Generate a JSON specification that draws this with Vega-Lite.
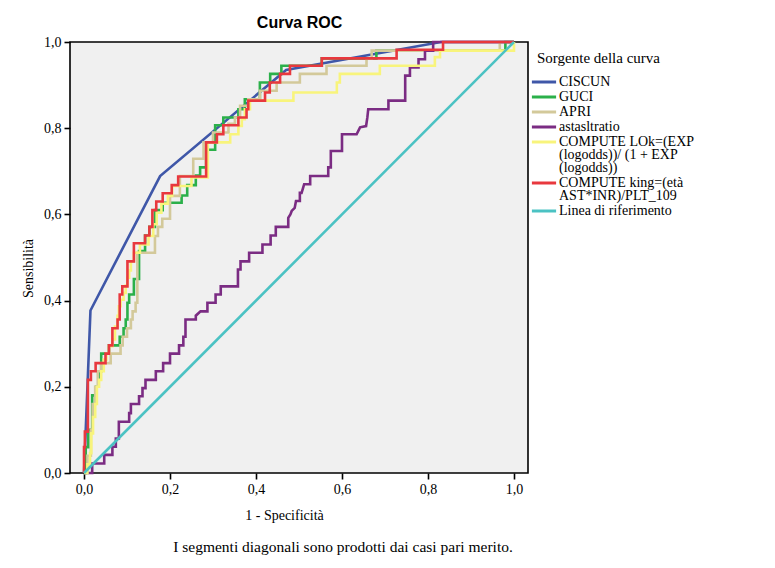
{
"$schema": "https://vega.github.io/schema/vega-lite/v6.json",
"autosize": {"type": "none"},
"width": 458,
"height": 431,
"padding": {"left": 70, "top": 42, "right": 247, "bottom": 95},
"background": "#ffffff",
"title": {"text": "I segmenti diagonali sono prodotti dai casi pari merito.", "orient": "bottom", "anchor": "middle", "font": "Liberation Serif", "fontSize": 15.5, "fontWeight": "normal", "color": "#000000", "offset": 18, "dx": 44},
"config": {
"view": {"fill": "#f0f0f0", "stroke": "#000000", "strokeWidth": 1.6},
"style": {"guide-label": {"lineHeight": 13}},
"axis": {"domain": false, "grid": false, "tickColor": "#000000", "tickWidth": 1.6, "tickSize": 6, "labelFont": "Liberation Serif", "labelFontSize": 14, "labelColor": "#000000", "titleFont": "Liberation Serif", "titleFontSize": 14, "titleFontWeight": "normal", "titleColor": "#000000"},
"legend": {"symbolType": "M-2.2,0H2.2", "symbolSize": 121, "symbolStrokeWidth": 3, "labelFont": "Liberation Serif", "labelFontSize": 14, "labelColor": "#000000", "titleFont": "Liberation Serif", "titleFontSize": 15, "titleFontWeight": "normal", "titleColor": "#000000", "titlePadding": 9, "rowPadding": 1, "labelOffset": 8, "labelLimit": 0}
},
"datasets": {
"roc": [
{"curva":"CISCUN","x":0,"y":0},{"curva":"CISCUN","x":0.004,"y":0.1},{"curva":"CISCUN","x":0.015,"y":0.377},{"curva":"CISCUN","x":0.177,"y":0.689},{"curva":"CISCUN","x":0.47,"y":0.935},{"curva":"CISCUN","x":0.83,"y":1},{"curva":"CISCUN","x":1,"y":1},
{"curva":"GUCI","x":0,"y":0},{"curva":"GUCI","x":0.004,"y":0},{"curva":"GUCI","x":0.004,"y":0.06},{"curva":"GUCI","x":0.01,"y":0.06},{"curva":"GUCI","x":0.01,"y":0.1},{"curva":"GUCI","x":0.019,"y":0.1},{"curva":"GUCI","x":0.019,"y":0.18},{"curva":"GUCI","x":0.028,"y":0.18},{"curva":"GUCI","x":0.028,"y":0.2},{"curva":"GUCI","x":0.034,"y":0.2},{"curva":"GUCI","x":0.034,"y":0.236},{"curva":"GUCI","x":0.04,"y":0.236},{"curva":"GUCI","x":0.04,"y":0.277},{"curva":"GUCI","x":0.058,"y":0.277},{"curva":"GUCI","x":0.058,"y":0.296},{"curva":"GUCI","x":0.083,"y":0.296},{"curva":"GUCI","x":0.083,"y":0.316},{"curva":"GUCI","x":0.092,"y":0.316},{"curva":"GUCI","x":0.092,"y":0.336},{"curva":"GUCI","x":0.097,"y":0.336},{"curva":"GUCI","x":0.097,"y":0.356},{"curva":"GUCI","x":0.101,"y":0.356},{"curva":"GUCI","x":0.101,"y":0.395},{"curva":"GUCI","x":0.105,"y":0.395},{"curva":"GUCI","x":0.105,"y":0.414},{"curva":"GUCI","x":0.116,"y":0.414},{"curva":"GUCI","x":0.116,"y":0.45},{"curva":"GUCI","x":0.128,"y":0.45},{"curva":"GUCI","x":0.128,"y":0.515},{"curva":"GUCI","x":0.142,"y":0.515},{"curva":"GUCI","x":0.142,"y":0.551},{"curva":"GUCI","x":0.152,"y":0.551},{"curva":"GUCI","x":0.152,"y":0.571},{"curva":"GUCI","x":0.165,"y":0.571},{"curva":"GUCI","x":0.165,"y":0.61},{"curva":"GUCI","x":0.183,"y":0.61},{"curva":"GUCI","x":0.183,"y":0.627},{"curva":"GUCI","x":0.227,"y":0.627},{"curva":"GUCI","x":0.227,"y":0.644},{"curva":"GUCI","x":0.24,"y":0.644},{"curva":"GUCI","x":0.24,"y":0.668},{"curva":"GUCI","x":0.26,"y":0.668},{"curva":"GUCI","x":0.26,"y":0.69},{"curva":"GUCI","x":0.27,"y":0.69},{"curva":"GUCI","x":0.27,"y":0.709},{"curva":"GUCI","x":0.284,"y":0.709},{"curva":"GUCI","x":0.284,"y":0.75},{"curva":"GUCI","x":0.305,"y":0.75},{"curva":"GUCI","x":0.305,"y":0.807},{"curva":"GUCI","x":0.324,"y":0.807},{"curva":"GUCI","x":0.324,"y":0.825},{"curva":"GUCI","x":0.359,"y":0.825},{"curva":"GUCI","x":0.359,"y":0.844},{"curva":"GUCI","x":0.374,"y":0.844},{"curva":"GUCI","x":0.374,"y":0.867},{"curva":"GUCI","x":0.409,"y":0.867},{"curva":"GUCI","x":0.409,"y":0.906},{"curva":"GUCI","x":0.433,"y":0.906},{"curva":"GUCI","x":0.433,"y":0.926},{"curva":"GUCI","x":0.459,"y":0.926},{"curva":"GUCI","x":0.459,"y":0.945},{"curva":"GUCI","x":0.553,"y":0.945},{"curva":"GUCI","x":0.553,"y":0.962},{"curva":"GUCI","x":0.68,"y":0.962},{"curva":"GUCI","x":0.68,"y":0.98},{"curva":"GUCI","x":0.98,"y":0.98},{"curva":"GUCI","x":0.98,"y":1},{"curva":"GUCI","x":1,"y":1},
{"curva":"APRI","x":0,"y":0},{"curva":"APRI","x":0.008,"y":0},{"curva":"APRI","x":0.008,"y":0.04},{"curva":"APRI","x":0.016,"y":0.04},{"curva":"APRI","x":0.016,"y":0.1},{"curva":"APRI","x":0.02,"y":0.1},{"curva":"APRI","x":0.02,"y":0.16},{"curva":"APRI","x":0.026,"y":0.16},{"curva":"APRI","x":0.026,"y":0.2},{"curva":"APRI","x":0.032,"y":0.2},{"curva":"APRI","x":0.032,"y":0.236},{"curva":"APRI","x":0.04,"y":0.236},{"curva":"APRI","x":0.04,"y":0.255},{"curva":"APRI","x":0.062,"y":0.255},{"curva":"APRI","x":0.062,"y":0.277},{"curva":"APRI","x":0.085,"y":0.277},{"curva":"APRI","x":0.085,"y":0.296},{"curva":"APRI","x":0.09,"y":0.296},{"curva":"APRI","x":0.09,"y":0.316},{"curva":"APRI","x":0.1,"y":0.316},{"curva":"APRI","x":0.1,"y":0.336},{"curva":"APRI","x":0.109,"y":0.336},{"curva":"APRI","x":0.109,"y":0.356},{"curva":"APRI","x":0.113,"y":0.356},{"curva":"APRI","x":0.113,"y":0.375},{"curva":"APRI","x":0.12,"y":0.375},{"curva":"APRI","x":0.12,"y":0.395},{"curva":"APRI","x":0.124,"y":0.395},{"curva":"APRI","x":0.124,"y":0.511},{"curva":"APRI","x":0.165,"y":0.511},{"curva":"APRI","x":0.165,"y":0.55},{"curva":"APRI","x":0.172,"y":0.55},{"curva":"APRI","x":0.172,"y":0.571},{"curva":"APRI","x":0.182,"y":0.571},{"curva":"APRI","x":0.182,"y":0.59},{"curva":"APRI","x":0.2,"y":0.59},{"curva":"APRI","x":0.2,"y":0.643},{"curva":"APRI","x":0.223,"y":0.643},{"curva":"APRI","x":0.223,"y":0.689},{"curva":"APRI","x":0.254,"y":0.689},{"curva":"APRI","x":0.254,"y":0.729},{"curva":"APRI","x":0.278,"y":0.729},{"curva":"APRI","x":0.278,"y":0.767},{"curva":"APRI","x":0.3,"y":0.767},{"curva":"APRI","x":0.3,"y":0.79},{"curva":"APRI","x":0.336,"y":0.79},{"curva":"APRI","x":0.336,"y":0.81},{"curva":"APRI","x":0.351,"y":0.81},{"curva":"APRI","x":0.351,"y":0.825},{"curva":"APRI","x":0.363,"y":0.825},{"curva":"APRI","x":0.363,"y":0.852},{"curva":"APRI","x":0.382,"y":0.852},{"curva":"APRI","x":0.382,"y":0.867},{"curva":"APRI","x":0.409,"y":0.867},{"curva":"APRI","x":0.409,"y":0.887},{"curva":"APRI","x":0.448,"y":0.887},{"curva":"APRI","x":0.448,"y":0.906},{"curva":"APRI","x":0.502,"y":0.906},{"curva":"APRI","x":0.502,"y":0.926},{"curva":"APRI","x":0.564,"y":0.926},{"curva":"APRI","x":0.564,"y":0.945},{"curva":"APRI","x":0.657,"y":0.945},{"curva":"APRI","x":0.657,"y":0.962},{"curva":"APRI","x":0.669,"y":0.962},{"curva":"APRI","x":0.669,"y":0.98},{"curva":"APRI","x":0.967,"y":0.98},{"curva":"APRI","x":0.967,"y":1},{"curva":"APRI","x":1,"y":1},
{"curva":"astasltratio","x":0,"y":0},{"curva":"astasltratio","x":0.019,"y":0},{"curva":"astasltratio","x":0.019,"y":0.022},{"curva":"astasltratio","x":0.047,"y":0.022},{"curva":"astasltratio","x":0.047,"y":0.042},{"curva":"astasltratio","x":0.066,"y":0.042},{"curva":"astasltratio","x":0.066,"y":0.061},{"curva":"astasltratio","x":0.074,"y":0.061},{"curva":"astasltratio","x":0.074,"y":0.08},{"curva":"astasltratio","x":0.081,"y":0.08},{"curva":"astasltratio","x":0.081,"y":0.119},{"curva":"astasltratio","x":0.105,"y":0.119},{"curva":"astasltratio","x":0.105,"y":0.139},{"curva":"astasltratio","x":0.109,"y":0.139},{"curva":"astasltratio","x":0.109,"y":0.16},{"curva":"astasltratio","x":0.128,"y":0.16},{"curva":"astasltratio","x":0.128,"y":0.178},{"curva":"astasltratio","x":0.136,"y":0.178},{"curva":"astasltratio","x":0.136,"y":0.197},{"curva":"astasltratio","x":0.143,"y":0.197},{"curva":"astasltratio","x":0.143,"y":0.216},{"curva":"astasltratio","x":0.167,"y":0.216},{"curva":"astasltratio","x":0.167,"y":0.236},{"curva":"astasltratio","x":0.184,"y":0.236},{"curva":"astasltratio","x":0.184,"y":0.255},{"curva":"astasltratio","x":0.2,"y":0.255},{"curva":"astasltratio","x":0.2,"y":0.277},{"curva":"astasltratio","x":0.221,"y":0.277},{"curva":"astasltratio","x":0.221,"y":0.296},{"curva":"astasltratio","x":0.231,"y":0.296},{"curva":"astasltratio","x":0.231,"y":0.316},{"curva":"astasltratio","x":0.236,"y":0.316},{"curva":"astasltratio","x":0.236,"y":0.356},{"curva":"astasltratio","x":0.26,"y":0.356},{"curva":"astasltratio","x":0.26,"y":0.365},{"curva":"astasltratio","x":0.271,"y":0.375},{"curva":"astasltratio","x":0.287,"y":0.375},{"curva":"astasltratio","x":0.287,"y":0.395},{"curva":"astasltratio","x":0.306,"y":0.395},{"curva":"astasltratio","x":0.306,"y":0.414},{"curva":"astasltratio","x":0.318,"y":0.414},{"curva":"astasltratio","x":0.318,"y":0.433},{"curva":"astasltratio","x":0.358,"y":0.433},{"curva":"astasltratio","x":0.358,"y":0.472},{"curva":"astasltratio","x":0.364,"y":0.472},{"curva":"astasltratio","x":0.364,"y":0.491},{"curva":"astasltratio","x":0.384,"y":0.491},{"curva":"astasltratio","x":0.384,"y":0.511},{"curva":"astasltratio","x":0.415,"y":0.511},{"curva":"astasltratio","x":0.415,"y":0.53},{"curva":"astasltratio","x":0.434,"y":0.53},{"curva":"astasltratio","x":0.434,"y":0.551},{"curva":"astasltratio","x":0.446,"y":0.551},{"curva":"astasltratio","x":0.446,"y":0.571},{"curva":"astasltratio","x":0.475,"y":0.571},{"curva":"astasltratio","x":0.475,"y":0.592},{"curva":"astasltratio","x":0.48,"y":0.6},{"curva":"astasltratio","x":0.483,"y":0.608},{"curva":"astasltratio","x":0.49,"y":0.615},{"curva":"astasltratio","x":0.493,"y":0.631},{"curva":"astasltratio","x":0.502,"y":0.631},{"curva":"astasltratio","x":0.502,"y":0.65},{"curva":"astasltratio","x":0.506,"y":0.65},{"curva":"astasltratio","x":0.509,"y":0.66},{"curva":"astasltratio","x":0.512,"y":0.67},{"curva":"astasltratio","x":0.526,"y":0.67},{"curva":"astasltratio","x":0.526,"y":0.689},{"curva":"astasltratio","x":0.568,"y":0.689},{"curva":"astasltratio","x":0.568,"y":0.709},{"curva":"astasltratio","x":0.574,"y":0.709},{"curva":"astasltratio","x":0.574,"y":0.747},{"curva":"astasltratio","x":0.6,"y":0.747},{"curva":"astasltratio","x":0.6,"y":0.786},{"curva":"astasltratio","x":0.634,"y":0.786},{"curva":"astasltratio","x":0.642,"y":0.802},{"curva":"astasltratio","x":0.656,"y":0.805},{"curva":"astasltratio","x":0.659,"y":0.825},{"curva":"astasltratio","x":0.661,"y":0.844},{"curva":"astasltratio","x":0.708,"y":0.844},{"curva":"astasltratio","x":0.708,"y":0.864},{"curva":"astasltratio","x":0.747,"y":0.864},{"curva":"astasltratio","x":0.747,"y":0.922},{"curva":"astasltratio","x":0.758,"y":0.922},{"curva":"astasltratio","x":0.758,"y":0.941},{"curva":"astasltratio","x":0.778,"y":0.941},{"curva":"astasltratio","x":0.778,"y":0.96},{"curva":"astasltratio","x":0.793,"y":0.96},{"curva":"astasltratio","x":0.793,"y":0.98},{"curva":"astasltratio","x":0.812,"y":0.98},{"curva":"astasltratio","x":0.812,"y":1},{"curva":"astasltratio","x":1,"y":1},
{"curva":"COMPUTE LOk","x":0,"y":0},{"curva":"COMPUTE LOk","x":0.008,"y":0},{"curva":"COMPUTE LOk","x":0.008,"y":0.02},{"curva":"COMPUTE LOk","x":0.014,"y":0.02},{"curva":"COMPUTE LOk","x":0.014,"y":0.046},{"curva":"COMPUTE LOk","x":0.017,"y":0.046},{"curva":"COMPUTE LOk","x":0.017,"y":0.092},{"curva":"COMPUTE LOk","x":0.021,"y":0.092},{"curva":"COMPUTE LOk","x":0.021,"y":0.13},{"curva":"COMPUTE LOk","x":0.026,"y":0.13},{"curva":"COMPUTE LOk","x":0.026,"y":0.16},{"curva":"COMPUTE LOk","x":0.03,"y":0.16},{"curva":"COMPUTE LOk","x":0.03,"y":0.2},{"curva":"COMPUTE LOk","x":0.035,"y":0.2},{"curva":"COMPUTE LOk","x":0.035,"y":0.216},{"curva":"COMPUTE LOk","x":0.04,"y":0.216},{"curva":"COMPUTE LOk","x":0.04,"y":0.236},{"curva":"COMPUTE LOk","x":0.046,"y":0.236},{"curva":"COMPUTE LOk","x":0.046,"y":0.263},{"curva":"COMPUTE LOk","x":0.052,"y":0.263},{"curva":"COMPUTE LOk","x":0.052,"y":0.277},{"curva":"COMPUTE LOk","x":0.058,"y":0.277},{"curva":"COMPUTE LOk","x":0.058,"y":0.294},{"curva":"COMPUTE LOk","x":0.066,"y":0.294},{"curva":"COMPUTE LOk","x":0.066,"y":0.31},{"curva":"COMPUTE LOk","x":0.072,"y":0.31},{"curva":"COMPUTE LOk","x":0.072,"y":0.34},{"curva":"COMPUTE LOk","x":0.078,"y":0.34},{"curva":"COMPUTE LOk","x":0.078,"y":0.365},{"curva":"COMPUTE LOk","x":0.081,"y":0.365},{"curva":"COMPUTE LOk","x":0.081,"y":0.387},{"curva":"COMPUTE LOk","x":0.085,"y":0.387},{"curva":"COMPUTE LOk","x":0.085,"y":0.402},{"curva":"COMPUTE LOk","x":0.092,"y":0.402},{"curva":"COMPUTE LOk","x":0.092,"y":0.418},{"curva":"COMPUTE LOk","x":0.097,"y":0.418},{"curva":"COMPUTE LOk","x":0.097,"y":0.435},{"curva":"COMPUTE LOk","x":0.101,"y":0.435},{"curva":"COMPUTE LOk","x":0.101,"y":0.453},{"curva":"COMPUTE LOk","x":0.105,"y":0.453},{"curva":"COMPUTE LOk","x":0.105,"y":0.47},{"curva":"COMPUTE LOk","x":0.109,"y":0.47},{"curva":"COMPUTE LOk","x":0.109,"y":0.491},{"curva":"COMPUTE LOk","x":0.116,"y":0.491},{"curva":"COMPUTE LOk","x":0.116,"y":0.511},{"curva":"COMPUTE LOk","x":0.13,"y":0.511},{"curva":"COMPUTE LOk","x":0.13,"y":0.53},{"curva":"COMPUTE LOk","x":0.15,"y":0.53},{"curva":"COMPUTE LOk","x":0.15,"y":0.55},{"curva":"COMPUTE LOk","x":0.161,"y":0.55},{"curva":"COMPUTE LOk","x":0.161,"y":0.577},{"curva":"COMPUTE LOk","x":0.169,"y":0.577},{"curva":"COMPUTE LOk","x":0.169,"y":0.604},{"curva":"COMPUTE LOk","x":0.18,"y":0.604},{"curva":"COMPUTE LOk","x":0.18,"y":0.625},{"curva":"COMPUTE LOk","x":0.195,"y":0.625},{"curva":"COMPUTE LOk","x":0.195,"y":0.643},{"curva":"COMPUTE LOk","x":0.205,"y":0.643},{"curva":"COMPUTE LOk","x":0.205,"y":0.666},{"curva":"COMPUTE LOk","x":0.25,"y":0.666},{"curva":"COMPUTE LOk","x":0.25,"y":0.686},{"curva":"COMPUTE LOk","x":0.288,"y":0.686},{"curva":"COMPUTE LOk","x":0.288,"y":0.767},{"curva":"COMPUTE LOk","x":0.34,"y":0.767},{"curva":"COMPUTE LOk","x":0.34,"y":0.786},{"curva":"COMPUTE LOk","x":0.359,"y":0.786},{"curva":"COMPUTE LOk","x":0.359,"y":0.805},{"curva":"COMPUTE LOk","x":0.367,"y":0.805},{"curva":"COMPUTE LOk","x":0.367,"y":0.821},{"curva":"COMPUTE LOk","x":0.374,"y":0.821},{"curva":"COMPUTE LOk","x":0.374,"y":0.844},{"curva":"COMPUTE LOk","x":0.386,"y":0.844},{"curva":"COMPUTE LOk","x":0.386,"y":0.864},{"curva":"COMPUTE LOk","x":0.487,"y":0.864},{"curva":"COMPUTE LOk","x":0.487,"y":0.883},{"curva":"COMPUTE LOk","x":0.588,"y":0.883},{"curva":"COMPUTE LOk","x":0.588,"y":0.906},{"curva":"COMPUTE LOk","x":0.595,"y":0.906},{"curva":"COMPUTE LOk","x":0.595,"y":0.926},{"curva":"COMPUTE LOk","x":0.688,"y":0.926},{"curva":"COMPUTE LOk","x":0.688,"y":0.945},{"curva":"COMPUTE LOk","x":0.816,"y":0.945},{"curva":"COMPUTE LOk","x":0.816,"y":0.965},{"curva":"COMPUTE LOk","x":0.828,"y":0.965},{"curva":"COMPUTE LOk","x":0.828,"y":0.98},{"curva":"COMPUTE LOk","x":1,"y":0.98},{"curva":"COMPUTE LOk","x":1,"y":1},
{"curva":"COMPUTE king","x":0,"y":0},{"curva":"COMPUTE king","x":0,"y":0.06},{"curva":"COMPUTE king","x":0.002,"y":0.06},{"curva":"COMPUTE king","x":0.002,"y":0.096},{"curva":"COMPUTE king","x":0.009,"y":0.096},{"curva":"COMPUTE king","x":0.009,"y":0.216},{"curva":"COMPUTE king","x":0.016,"y":0.216},{"curva":"COMPUTE king","x":0.016,"y":0.236},{"curva":"COMPUTE king","x":0.027,"y":0.236},{"curva":"COMPUTE king","x":0.027,"y":0.255},{"curva":"COMPUTE king","x":0.05,"y":0.255},{"curva":"COMPUTE king","x":0.05,"y":0.277},{"curva":"COMPUTE king","x":0.058,"y":0.277},{"curva":"COMPUTE king","x":0.058,"y":0.296},{"curva":"COMPUTE king","x":0.066,"y":0.296},{"curva":"COMPUTE king","x":0.066,"y":0.336},{"curva":"COMPUTE king","x":0.078,"y":0.336},{"curva":"COMPUTE king","x":0.078,"y":0.356},{"curva":"COMPUTE king","x":0.083,"y":0.356},{"curva":"COMPUTE king","x":0.083,"y":0.414},{"curva":"COMPUTE king","x":0.089,"y":0.414},{"curva":"COMPUTE king","x":0.089,"y":0.433},{"curva":"COMPUTE king","x":0.101,"y":0.433},{"curva":"COMPUTE king","x":0.101,"y":0.491},{"curva":"COMPUTE king","x":0.116,"y":0.491},{"curva":"COMPUTE king","x":0.116,"y":0.533},{"curva":"COMPUTE king","x":0.142,"y":0.533},{"curva":"COMPUTE king","x":0.142,"y":0.551},{"curva":"COMPUTE king","x":0.152,"y":0.551},{"curva":"COMPUTE king","x":0.152,"y":0.571},{"curva":"COMPUTE king","x":0.159,"y":0.571},{"curva":"COMPUTE king","x":0.159,"y":0.61},{"curva":"COMPUTE king","x":0.168,"y":0.61},{"curva":"COMPUTE king","x":0.168,"y":0.63},{"curva":"COMPUTE king","x":0.183,"y":0.63},{"curva":"COMPUTE king","x":0.183,"y":0.649},{"curva":"COMPUTE king","x":0.204,"y":0.649},{"curva":"COMPUTE king","x":0.204,"y":0.668},{"curva":"COMPUTE king","x":0.219,"y":0.668},{"curva":"COMPUTE king","x":0.219,"y":0.688},{"curva":"COMPUTE king","x":0.284,"y":0.688},{"curva":"COMPUTE king","x":0.284,"y":0.767},{"curva":"COMPUTE king","x":0.309,"y":0.767},{"curva":"COMPUTE king","x":0.309,"y":0.786},{"curva":"COMPUTE king","x":0.324,"y":0.786},{"curva":"COMPUTE king","x":0.324,"y":0.807},{"curva":"COMPUTE king","x":0.359,"y":0.807},{"curva":"COMPUTE king","x":0.359,"y":0.825},{"curva":"COMPUTE king","x":0.378,"y":0.825},{"curva":"COMPUTE king","x":0.378,"y":0.844},{"curva":"COMPUTE king","x":0.382,"y":0.844},{"curva":"COMPUTE king","x":0.382,"y":0.864},{"curva":"COMPUTE king","x":0.421,"y":0.864},{"curva":"COMPUTE king","x":0.421,"y":0.883},{"curva":"COMPUTE king","x":0.432,"y":0.883},{"curva":"COMPUTE king","x":0.432,"y":0.906},{"curva":"COMPUTE king","x":0.456,"y":0.906},{"curva":"COMPUTE king","x":0.456,"y":0.926},{"curva":"COMPUTE king","x":0.479,"y":0.926},{"curva":"COMPUTE king","x":0.479,"y":0.945},{"curva":"COMPUTE king","x":0.553,"y":0.945},{"curva":"COMPUTE king","x":0.553,"y":0.962},{"curva":"COMPUTE king","x":0.727,"y":0.962},{"curva":"COMPUTE king","x":0.727,"y":0.982},{"curva":"COMPUTE king","x":0.835,"y":0.982},{"curva":"COMPUTE king","x":0.835,"y":1},{"curva":"COMPUTE king","x":1,"y":1}
],
"rif": [
{"curva":"Linea di riferimento","x":0,"y":0},{"curva":"Linea di riferimento","x":1,"y":1}
]
},
"layer": [
{
"data": {"name": "roc"},
"mark": {"type": "line", "strokeWidth": 2.6},
"encoding": {
"x": {"field": "x", "type": "quantitative", "scale": {"domain": [-0.0326, 1.0326], "nice": false, "zero": false}, "axis": {"orient": "bottom", "values": [0, 0.2, 0.4, 0.6, 0.8, 1], "labelExpr": "replace(format(datum.value, '.1f'), '.', ',')", "labelPadding": 3, "title": "1 - Specificità", "titlePadding": 12, "titleX": 214}},
"y": {"field": "y", "type": "quantitative", "scale": {"domain": [0, 1], "nice": false, "zero": false}, "axis": {"orient": "left", "values": [0, 0.2, 0.4, 0.6, 0.8, 1], "labelExpr": "replace(format(datum.value, '.1f'), '.', ',')", "labelPadding": 3, "title": "Sensibilità", "titlePadding": 8, "titleY": 226}},
"color": {"field": "curva", "type": "nominal", "sort": null,
"scale": {"domain": ["CISCUN", "GUCI", "APRI", "astasltratio", "COMPUTE LOk", "COMPUTE king", "Linea di riferimento"], "range": ["#3f57a8", "#2bb04a", "#d3c99a", "#7b2c83", "#f8f47c", "#e8383e", "#4bc2c3"]},
"legend": {"orient": "none", "legendX": 467, "legendY": 9, "title": "Sorgente della curva",
"labelExpr": "datum.label == 'COMPUTE LOk' ? ['COMPUTE LOk=(EXP', '(logodds))/ (1 + EXP', '(logodds))'] : datum.label == 'COMPUTE king' ? ['COMPUTE king=(età', 'AST*INR)/PLT_109'] : datum.label"}},
"order": {"value": null}
}
},
{
"data": {"name": "rif"},
"mark": {"type": "line", "strokeWidth": 2.6},
"encoding": {
"x": {"field": "x", "type": "quantitative", "scale": {"domain": [-0.0326, 1.0326], "nice": false, "zero": false}, "axis": {"orient": "top", "domain": false, "ticks": false, "labels": false, "title": "Curva ROC", "titleFont": "Liberation Sans", "titleFontSize": 16, "titleFontWeight": "bold", "titlePadding": 12}},
"y": {"field": "y", "type": "quantitative"},
"color": {"field": "curva", "type": "nominal", "sort": null},
"order": {"value": null}
}
}
],
"resolve": {"axis": {"x": "independent"}}
}
